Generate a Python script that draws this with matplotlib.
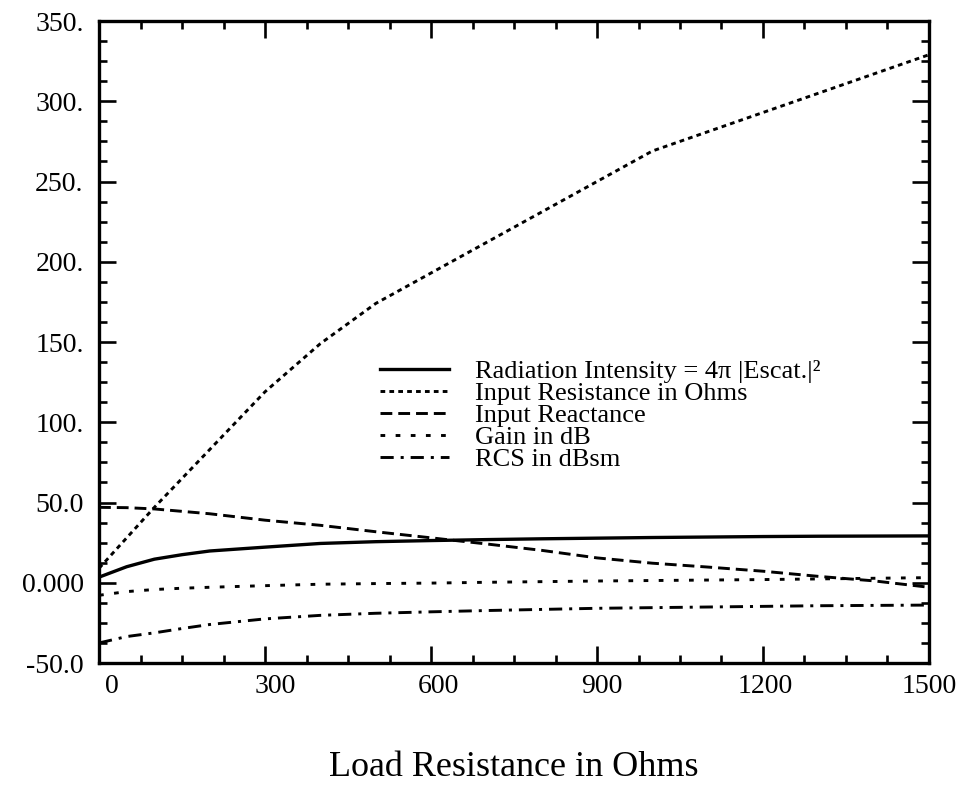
import matplotlib
matplotlib.use('Agg')
import matplotlib.pyplot as plt
from matplotlib.ticker import MultipleLocator
from matplotlib.transforms import ScaledTranslation

plt.rcParams['font.family'] = ['Liberation Serif', 'DejaVu Serif']
plt.rcParams['lines.scale_dashes'] = False

# ---- data ----
load_ohms = [0, 50, 100, 150, 200, 300, 400, 500, 600, 700, 800, 900,
             1000, 1100, 1200, 1300, 1400, 1500]
radiation_intensity = [3.5, 10.0, 14.7, 17.5, 19.8, 22.2, 24.5, 25.6, 26.3, 26.9,
                       27.4, 27.8, 28.2, 28.5, 28.8, 29.0, 29.1, 29.2]
input_resistance = [9, 28, 47, 65, 83, 119, 149, 174, 193, 212, 231, 250,
                    269, 281, 293, 305, 317, 329]
input_reactance = [47.0, 46.8, 46.0, 44.5, 43.0, 39.0, 35.8, 31.8, 28.0, 24.2,
                   20.2, 15.5, 12.2, 9.8, 7.2, 4.0, 1.2, -2.8]
gain_db = [-7.8, -5.5, -4.2, -3.4, -2.8, -1.8, -0.9, -0.5, -0.2, 0.3,
           0.7, 1.1, 1.4, 1.7, 2.0, 2.4, 2.8, 3.2]
rcs_dbsm = [-37.5, -33.5, -31.2, -28.5, -26.0, -22.5, -20.3, -19.0, -18.1, -17.3,
            -16.6, -15.9, -15.5, -15.1, -14.7, -14.3, -14.1, -13.9]

series_labels = ["Radiation Intensity = 4\u03c0 |Escat.|\u00b2",
                 "Input Resistance in Ohms",
                 "Input Reactance",
                 "Gain in dB",
                 "RCS in dBsm"]

x_ticks = [0, 300, 600, 900, 1200, 1500]
x_tick_labels = ["0", "300", "600", "900", "1200", "1500"]
y_ticks = [-50, 0, 50, 100, 150, 200, 250, 300, 350]
y_tick_labels = ["-50.0", "0.000", "50.0", "100.", "150.", "200.", "250.", "300.", "350."]

# ---- figure ----
fig = plt.figure(figsize=(9.68, 7.93), dpi=100)
ax = fig.add_axes([0.1023, 0.1639, 0.8574, 0.8096])

lw = 2.1
ax.plot(load_ohms, radiation_intensity, color='black', lw=2.4, ls='-',
        label=series_labels[0])
ax.plot(load_ohms, input_resistance, color='black', lw=lw, ls=(0, (3.4, 3.0)),
        label=series_labels[1])
ax.plot(load_ohms, input_reactance, color='black', lw=lw, ls=(0, (8.5, 4.3)),
        label=series_labels[2])
ax.plot(load_ohms, gain_db, color='black', lw=lw, ls=(0, (3.4, 7.5)),
        label=series_labels[3])
ax.plot(load_ohms, rcs_dbsm, color='black', lw=lw, ls=(0, (9.5, 5.0, 2.2, 5.0)),
        label=series_labels[4])

ax.set_xlim(0, 1500)
ax.set_ylim(-50, 350)
ax.set_xticks(x_ticks)
ax.set_xticklabels(x_tick_labels)
ax.set_yticks(y_ticks)
ax.set_yticklabels(y_tick_labels)
ax.xaxis.set_minor_locator(MultipleLocator(75))
ax.yaxis.set_minor_locator(MultipleLocator(12.5))

ax.tick_params(which='both', direction='in', top=True, right=True, width=1.9,
               colors='black')
ax.tick_params(which='major', length=12, labelsize=20)
ax.tick_params(which='minor', length=5.5)
ax.tick_params(axis='x', which='major', pad=8)
ax.tick_params(axis='y', which='major', pad=11)
for s in ax.spines.values():
    s.set_linewidth(2.4)

# the original x tick labels sit slightly right of their ticks on the left side
for i, lab in enumerate(ax.get_xticklabels()):
    dx = (13 - 2.6 * i) / 100.0
    lab.set_transform(lab.get_transform() + ScaledTranslation(dx, 0, fig.dpi_scale_trans))

ax.set_xlabel('Load Resistance in Ohms', fontsize=26, labelpad=37)

leg = ax.legend(loc='upper left', bbox_to_anchor=(0.339, 0.472), frameon=False,
                fontsize=19, handlelength=2.6, handletextpad=1.0,
                labelspacing=-0.06, borderaxespad=0, borderpad=0)

fig.savefig('out.png', dpi=100)
